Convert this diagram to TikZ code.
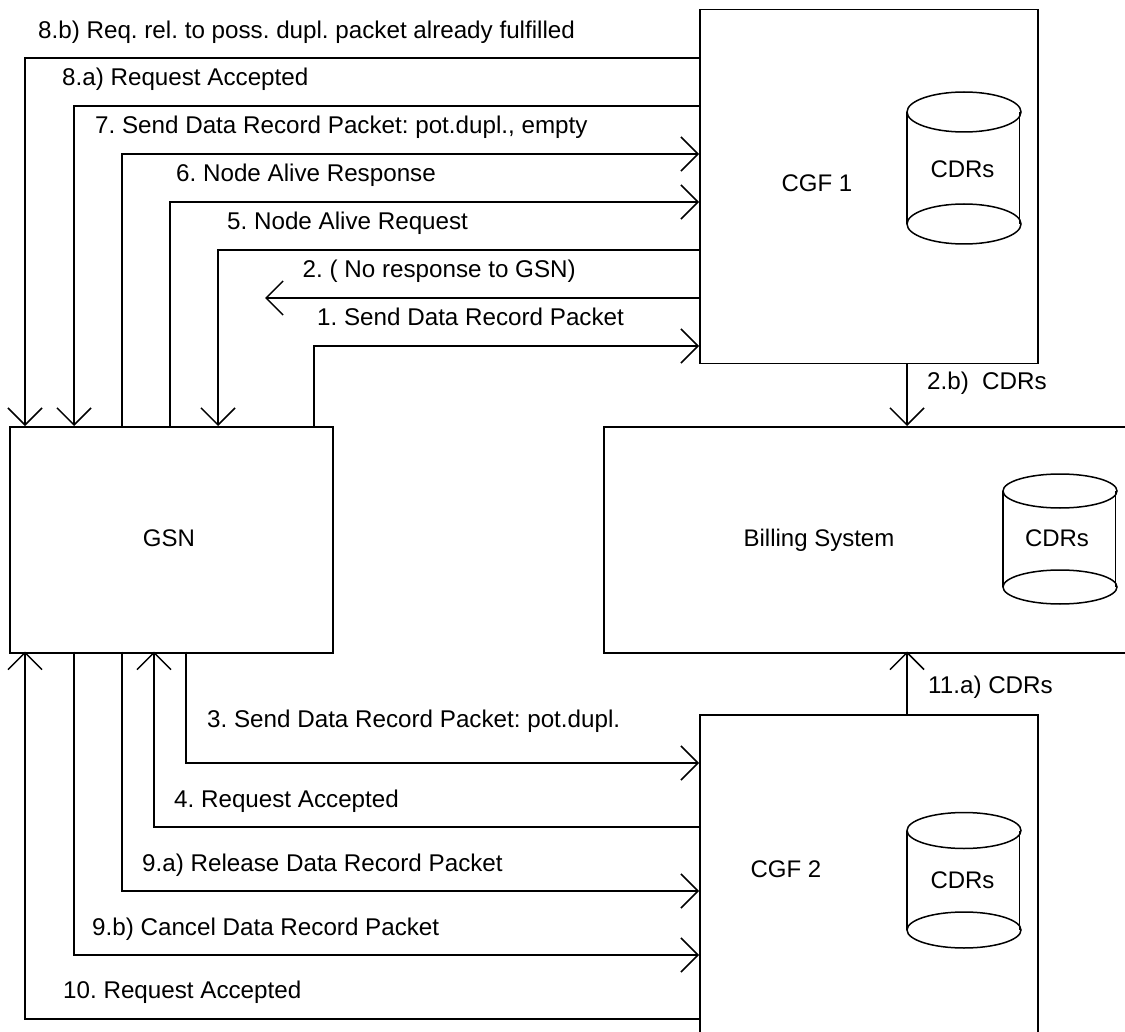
\documentclass[tikz,border=0pt]{standalone}
\usepackage{fontspec}
\setmainfont{Liberation Sans}
\usetikzlibrary{arrows.meta}
\tikzset{
  lbl/.style={anchor=base west,inner sep=0pt,font=\fontsize{24.2}{28}\selectfont\frenchspacing,text=black},
  ctr/.style={anchor=base,inner sep=0pt,font=\fontsize{24}{28}\selectfont\frenchspacing,text=black},
  boxn/.style={draw=black,line width=1.5pt,inner sep=0pt,anchor=north west},
  conn/.style={draw=black,line width=1.5pt},
  arr/.style={conn,-{Straight Barb[length=17pt,width=34pt,line width=1.5pt]}},
  cyl/.style={draw=black,line width=1.5pt}
}
\newcommand{\cylinder}[4]{% left x, top centre y, bottom centre y, y radius
  \draw[cyl] (#1,#2) -- (#1,#3);
  \draw[cyl] (#1+112.5,#2) -- (#1+112.5,#3);
  \draw[cyl] (#1+57,#2) ellipse [x radius=57,y radius=#4];
  \draw[cyl] (#1+57,#3) ellipse [x radius=57,y radius=#4];
}
\begin{document}
\begin{tikzpicture}[x=1pt,y=-1pt]
\useasboundingbox (0,0) rectangle (1125,1032);
\fill[white] (0,0) rectangle (1125,1032);
% boxes
\node[boxn,minimum width=338pt,minimum height=354pt] (cgf1) at (699,9) {};
\node[boxn,minimum width=323pt,minimum height=226pt] (gsn) at (9,426) {};
\node[boxn,minimum width=523pt,minimum height=226pt] (bill) at (603,426) {};
\node[boxn,minimum width=338pt,minimum height=320pt] (cgf2) at (699,714) {};
% cylinders
\cylinder{907}{112}{224}{20}
\cylinder{1003}{491}{587}{17}
\cylinder{907}{830.5}{930}{18}
% connectors, top
\draw[arr] (cgf1.west |- 0,58) -| (gsn.north -| 25,0);
\draw[arr] (cgf1.west |- 0,106) -| (gsn.north -| 74,0);
\draw[arr] (gsn.north -| 122,0) |- (cgf1.west |- 0,154);
\draw[arr] (gsn.north -| 170,0) |- (cgf1.west |- 0,202);
\draw[arr] (cgf1.west |- 0,250) -| (gsn.north -| 218,0);
\coordinate (noresp) at (265,298);
\draw[arr] (cgf1.west |- noresp) -- (noresp);
\draw[arr] (gsn.north -| 314,0) |- (cgf1.west |- 0,346);
\draw[arr] (cgf1.south -| 907,0) -- (bill.north -| 907,0);
% connectors, bottom
\draw[arr] (cgf2.north -| 907,0) -- ([yshift=2pt]bill.south -| 907,0);
\draw[arr] ([yshift=2pt]gsn.south -| 186,0) |- (cgf2.west |- 0,763);
\draw[arr] (cgf2.west |- 0,827) -| ([yshift=2pt]gsn.south -| 154,0);
\draw[arr] ([yshift=2pt]gsn.south -| 122,0) |- (cgf2.west |- 0,891);
\draw[arr] ([yshift=2pt]gsn.south -| 74,0) |- (cgf2.west |- 0,955);
\draw[arr] (cgf2.west |- 0,1019) -| ([yshift=2pt]gsn.south -| 25,0);
% labels
\node[lbl] (l8b) at (38,38.5) {8.b) Req. rel. to poss. dupl. packet already fulfilled};
\node[lbl] (l8a) at (62,86) {8.a) Request Accepted};
\node[lbl] (l7) at (95,134) {7. Send Data Record Packet: pot.dupl., empty};
\node[lbl] (l6) at (176,182) {6. Node Alive Response};
\node[lbl] (l5) at (227,230) {5. Node Alive Request};
\node[lbl] (l2) at (302.5,278) {2. ( No response to GSN)};
\node[lbl] (l1) at (317,326) {1. Send Data Record Packet};
\node[lbl] (l2b) at (927,390) {2.b)\hspace{6.5pt} CDRs};
\node[lbl] (l11a) at (928,693) {11.a) CDRs};
\node[lbl] (l3) at (207,727) {3. Send Data Record Packet: pot.dupl.};
\node[lbl] (l4) at (174,807) {4. Request Accepted};
\node[lbl] (l9a) at (142,871) {9.a) Release Data Record Packet};
\node[lbl] (l9b) at (92,935) {9.b) Cancel Data Record Packet};
\node[lbl] (l10) at (63,998) {10. Request Accepted};
\node[ctr] (tgsn) at (169,546) {GSN};
\node[ctr] (tbill) at (819,546) {Billing System};
\node[ctr] (tcgf1) at (817,192) {CGF 1};
\node[ctr] (tcgf2) at (786,877) {CGF 2};
\node[ctr] (c1) at (962.5,178) {CDRs};
\node[ctr] (c2) at (1057,546) {CDRs};
\node[ctr] (c3) at (962.5,888) {CDRs};
\end{tikzpicture}
\end{document}
